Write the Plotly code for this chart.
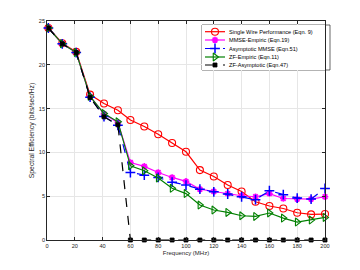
import plotly.graph_objects as go

freq = [1, 11, 21, 31, 41, 51, 60, 70, 80, 90, 100, 110, 120, 130, 140, 150, 160, 170, 180, 190, 200]
single_wire = [24.2, 22.46, 21.47, 16.6, 15.58, 14.82, 13.7, 12.95, 12.08, 11.08, 10.07, 7.98, 7.25, 6.27, 5.54, 4.37, 3.88, 3.6, 3.11, 2.92, 2.96]
mmse_emp = [24.2, 22.4, 21.4, 16.4, 14.4, 13.4, 8.85, 8.4, 7.7, 7.14, 6.69, 5.8, 5.54, 5.3, 5.05, 4.94, 5.3, 4.74, 4.67, 4.67, 4.94]
mmse_asym = [24.2, 22.4, 21.4, 16.3, 14.1, 13.1, 7.7, 7.4, 7.14, 6.6, 6.27, 5.8, 5.5, 5.25, 4.94, 4.6, 5.62, 5.17, 4.79, 4.67, 5.88]
zf_emp = [24.2, 22.4, 21.4, 16.4, 14.44, 13.49, 8.47, 7.9, 7.07, 5.9, 5.3, 3.99, 3.42, 3.15, 2.77, 2.69, 3.08, 2.5, 2.05, 2.28, 2.58]
zf_asym = [24.2, 22.4, 21.4, 16.26, 14.06, 13.15, 0, 0, 0, 0, 0, 0, 0, 0, 0, 0, 0, 0, 0, 0, 0]

names = ["Single Wire Performance (Eqn. 9)", "MMSE-Empiric (Eqn.19)", "Asymptotic MMSE (Eqn.51)",
         "ZF-Empiric (Eqn.11)", "ZF-Asymptotic (Eqn.47)"]
series = [single_wire, mmse_emp, mmse_asym, zf_emp, zf_asym]
colors = ["#ff0000", "#ff00ff", "#0000ff", "#008000", "#000000"]
dashes = ["solid", "solid", "dash", "solid", "dash"]
symbols = ["circle-open", "asterisk-open", "cross-thin-open", "triangle-right-open", "square"]
msizes = [7, 5.5, 7, 7, 4]
mlw = [1.1, 1.7, 1.5, 1.1, 0.8]

FONT = "Liberation Sans, Arial"

fig = go.Figure()
for n, s, c, d, sym, ms, lw in zip(names, series, colors, dashes, symbols, msizes, mlw):
    fig.add_trace(go.Scatter(
        x=freq, y=s, mode="lines+markers", name=n, showlegend=False,
        line=dict(color=c, width=1.2, dash=d),
        marker=dict(symbol=sym, size=ms, color=c, line=dict(color=c, width=lw)),
        cliponaxis=False))

# page body has an 8 px margin; positions below are given in screen pixels
OFF = 8
L, R, T, B = 47, 325, 21, 240
W, H = R - L, B - T

# custom compact legend drawn on an auxiliary pixel-unit axis
row_y = [31.7, 40.0, 48.5, 57.0, 65.0]
for n, c, d, sym, ms, lw, ry in zip(names, colors, dashes, symbols, msizes, mlw, row_y):
    fig.add_trace(go.Scatter(x=[205, 225], y=[ry, ry], mode="lines", xaxis="x2", yaxis="y2",
                             showlegend=False, hoverinfo="skip",
                             line=dict(color=c, width=1.2, dash=d)))
    fig.add_trace(go.Scatter(x=[215], y=[ry], mode="markers", xaxis="x2", yaxis="y2",
                             showlegend=False, hoverinfo="skip", cliponaxis=False,
                             marker=dict(symbol=sym, size=ms, color=c, line=dict(color=c, width=lw))))
    fig.add_annotation(x=226.5, y=ry, xref="x2", yref="y2", text=n, showarrow=False,
                       xanchor="left", yanchor="middle",
                       font=dict(family=FONT, size=5.6, color="#000000"))

fig.add_shape(type="rect", xref="paper", yref="paper",
              x0=(202 - L) / W, x1=(330 - L) / W, y0=(B - 70) / H, y1=(B - 25) / H,
              line=dict(color="#262626", width=0.7), fillcolor="rgba(255,255,255,1)", layer="below")

axis_common = dict(showline=True, linecolor="#262626", linewidth=0.7, mirror="ticks",
                   ticks="inside", ticklen=3, tickcolor="#262626", tickwidth=0.6,
                   showgrid=True, gridcolor="#e6e6e6", gridwidth=0.6, zeroline=False,
                   automargin=False,
                   tickfont=dict(family=FONT, size=5.6, color="#262626"))

fig.update_layout(
    template="none",
    width=360, height=270,
    margin=dict(l=L - OFF, r=360 - (R - OFF), t=T - OFF, b=270 - (B - OFF), pad=0),
    paper_bgcolor="white", plot_bgcolor="white",
    xaxis=dict(range=[0, 200], tickmode="array", tickvals=list(range(0, 201, 20)),
               title=dict(text="Frequency (MHz)", standoff=3,
                          font=dict(family=FONT, size=6, color="#262626")),
               **axis_common),
    yaxis=dict(range=[0, 25], tickmode="array", tickvals=[0, 5, 10, 15, 20, 25],
               title=dict(text="Spectral Efficiency (bits/sec/Hz)", standoff=3,
                          font=dict(family=FONT, size=6.8, color="#262626")),
               **axis_common),
    xaxis2=dict(domain=[(202 - L) / W, 1.0], range=[202, 325], visible=False, fixedrange=True,
                anchor="y2"),
    yaxis2=dict(domain=[(B - 70) / H, (B - 25) / H], range=[70, 25], visible=False, fixedrange=True,
                anchor="x2"),
    showlegend=False,
)

fig.write_html("out.html")
